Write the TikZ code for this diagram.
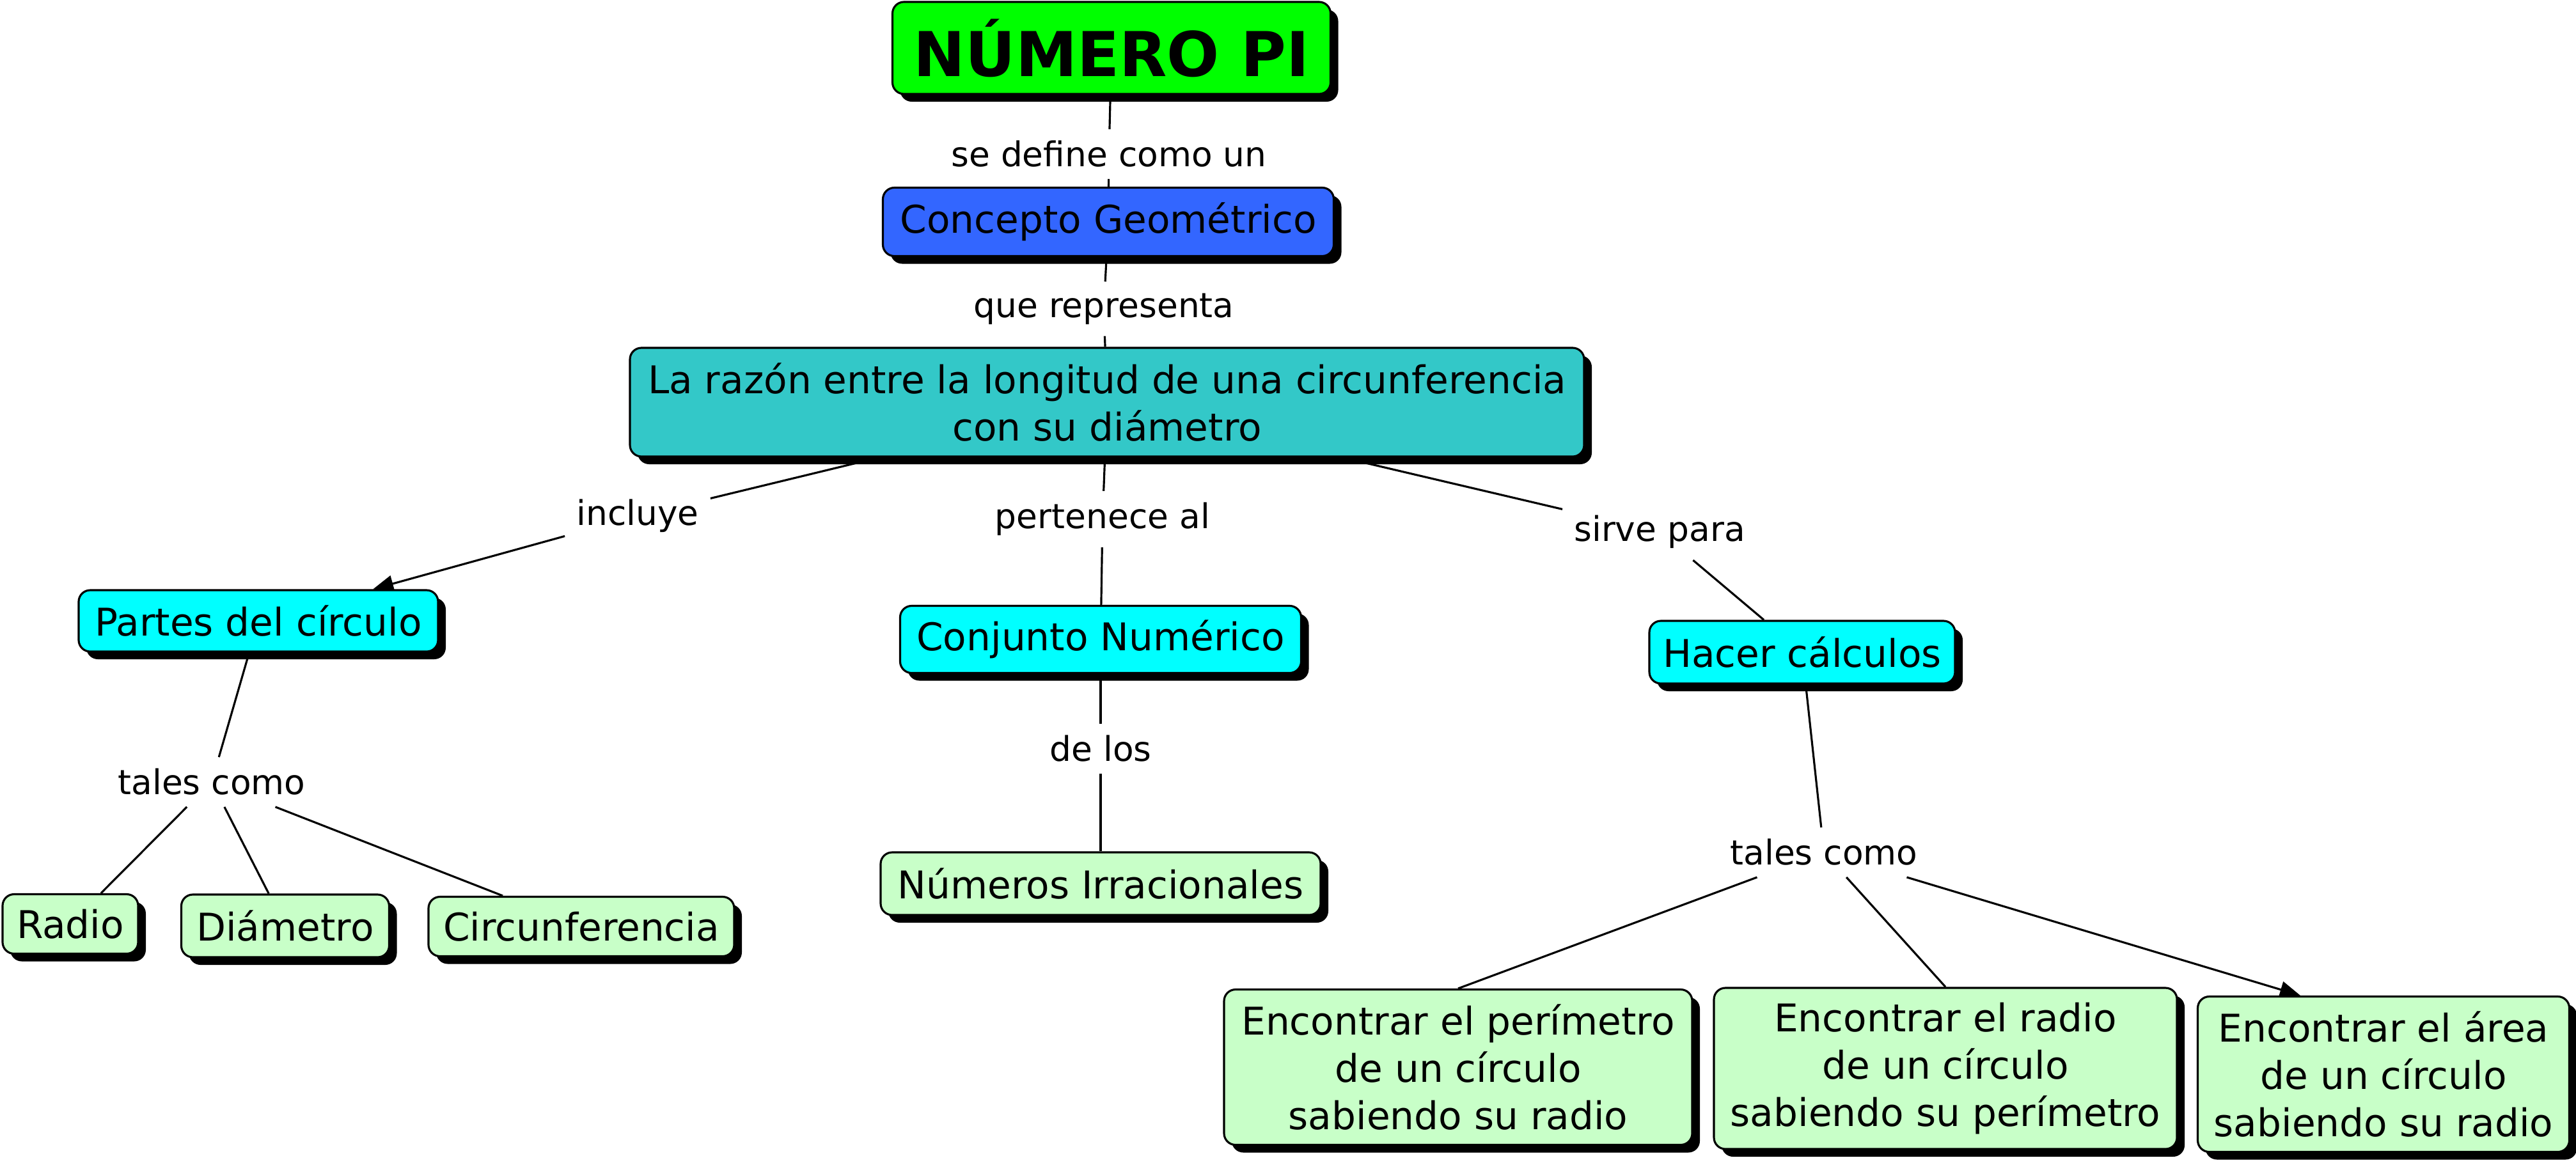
\documentclass[tikz,border=0pt]{standalone}
\usepackage{fontspec}
\setmainfont{DejaVu Sans}
\usetikzlibrary{shadows,backgrounds,arrows.meta}
\definecolor{titlegreen}{HTML}{00FF00}
\definecolor{geoblue}{HTML}{3366FF}
\definecolor{razonteal}{HTML}{33C8C8}
\definecolor{partcyan}{HTML}{00FFFF}
\definecolor{leafgreen}{HTML}{C8FFC8}

\begin{document}
\begin{tikzpicture}[
    concept/.style={draw, line width=.9pt, rounded corners=.18cm, align=center, inner sep=0pt,
        font=\fontsize{17}{21}\selectfont,
        drop shadow={shadow xshift=.12cm, shadow yshift=-.12cm, fill=black, opacity=1}},
    linkword/.style={align=center, inner sep=5pt, font=\fontsize{15.2}{18}\selectfont},
    link/.style={line width=.9pt},
    linkarrow/.style={link, -{Triangle[length=.32cm, width=.26cm]}}
]
    \useasboundingbox (0,0) rectangle (40.28,-18.21);

    % Top of the map
    \node[concept, fill=titlegreen, minimum width=6.85cm, minimum height=1.44cm,
        font=\bfseries\fontsize{27.5}{33}\selectfont] (pi) at (17.38,-0.75) {NÚMERO PI};
    \node[linkword] (def) at (17.34,-2.41) {se define como un};
    \node[concept, fill=geoblue, minimum width=7.05cm, minimum height=1.07cm] (geo) at (17.33,-3.47) {Concepto Geométrico};
    \node[linkword] (rep) at (17.26,-4.83) {que representa};
    \node[concept, fill=razonteal, minimum width=14.92cm, minimum height=1.70cm] (razon) at (17.31,-6.29)
        {La razón entre la longitud de una circunferencia\\con su diámetro};

    % Second level
    \node[linkword] (incl) at (9.97,-8.07) {incluye};
    \node[linkword] (pert) at (17.24,-8.12) {pertenece al};
    \node[linkword] (sirve) at (25.95,-8.32) {sirve para};
    \node[concept, fill=partcyan, minimum width=5.62cm, minimum height=.96cm] (partes) at (4.04,-9.71) {Partes del círculo};
    \node[concept, fill=partcyan, minimum width=6.27cm, minimum height=1.05cm] (conj) at (17.21,-10.0) {Conjunto Numérico};
    \node[concept, fill=partcyan, minimum width=4.78cm, minimum height=.98cm] (calc) at (28.18,-10.2) {Hacer cálculos};

    % Third level
    \node[linkword] (talesA) at (3.31,-12.23) {tales como};
    \node[linkword] (delos) at (17.21,-11.71) {de los};
    \node[linkword] (talesB) at (28.52,-13.33) {tales como};
    \node[concept, fill=leafgreen, minimum width=2.12cm, minimum height=.93cm] (radio) at (1.10,-14.45) {Radio};
    \node[concept, fill=leafgreen, minimum width=3.25cm, minimum height=.98cm] (diam) at (4.46,-14.48) {Diámetro};
    \node[concept, fill=leafgreen, minimum width=4.78cm, minimum height=.93cm] (circ) at (9.09,-14.49) {Circunferencia};
    \node[concept, fill=leafgreen, minimum width=6.88cm, minimum height=.98cm] (irrac) at (17.21,-13.82) {Números Irracionales};
    \node[concept, fill=leafgreen, minimum width=7.32cm, minimum height=2.43cm] (perim) at (22.80,-16.69)
        {Encontrar el perímetro\\de un círculo\\sabiendo su radio};
    \node[concept, fill=leafgreen, minimum width=7.24cm, minimum height=2.52cm] (radcalc) at (30.42,-16.71)
        {Encontrar el radio\\de un círculo\\sabiendo su perímetro};
    \node[concept, fill=leafgreen, minimum width=5.81cm, minimum height=2.43cm] (area) at (37.27,-16.80)
        {Encontrar el área\\de un círculo\\sabiendo su radio};

    % Connectors behind the boxes and their shadows
    \begin{pgfonlayer}{background}
        \draw[link] (pi) -- (def);
        \draw[link] (def) -- (geo);
        \draw[link] (geo) -- (rep);
        \draw[link] (rep) -- (razon);
        \draw[link] (razon) -- (incl);
        \draw[linkarrow] (incl) -- (partes);
        \draw[link] (razon) -- (pert);
        \draw[link] (pert) -- (conj);
        \draw[link] (razon) -- (sirve);
        \draw[link] (sirve) -- (calc);
        \draw[link] (partes) -- (talesA);
        \draw[link] (talesA) -- (radio);
        \draw[link] (talesA) -- (diam);
        \draw[link] (talesA) -- (circ);
        \draw[link] (conj) -- (delos);
        \draw[link] (delos) -- (irrac);
        \draw[link] (calc) -- (talesB);
        \draw[link] (talesB) -- (perim.north);
        \draw[link] (talesB) -- (radcalc.north);
        \draw[linkarrow] (talesB) -- ([xshift=-1.3cm]area.north);
    \end{pgfonlayer}
\end{tikzpicture}
\end{document}
